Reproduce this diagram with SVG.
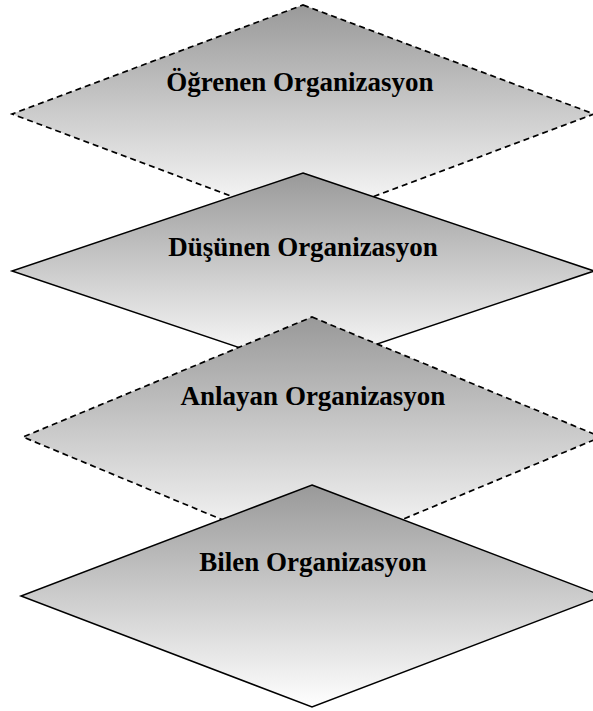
<svg xmlns="http://www.w3.org/2000/svg" width="593" height="711" viewBox="0 0 593 711">
<defs>
<linearGradient id="g" x1="0" y1="0" x2="0" y2="1">
<stop offset="0" stop-color="#999999"/>
<stop offset="1" stop-color="#ffffff"/>
</linearGradient>
</defs>
<style>
.d{fill:url(#g);stroke:#000;stroke-width:1.5;stroke-linejoin:miter}
.dash{stroke-width:1.7;stroke-dasharray:6,4}
.t{font-family:"Liberation Serif","Times New Roman",serif;font-weight:bold;font-size:27px;text-anchor:middle;fill:#000}
</style>
<rect width="593" height="711" fill="#fff"/>
<g id="ogrenen">
<polygon class="d dash" points="303,5 594,114 303,223 12,114"/>
<text class="t" x="300" y="91">Öğrenen Organizasyon</text>
</g>
<g id="dusunen">
<polygon class="d" points="303,173 594,271 303,369 12,271"/>
<text class="t" x="303" y="256">Düşünen Organizasyon</text>
</g>
<g id="anlayan">
<polygon class="d dash" points="312,317 601,437 312,557 23,437"/>
<text class="t" x="313" y="405">Anlayan Organizasyon</text>
</g>
<g id="bilen">
<polygon class="d" points="312,485 603,596 312,707 21,596"/>
<text class="t" x="313" y="571">Bilen Organizasyon</text>
</g>
<g id="connectors"/>
</svg>
